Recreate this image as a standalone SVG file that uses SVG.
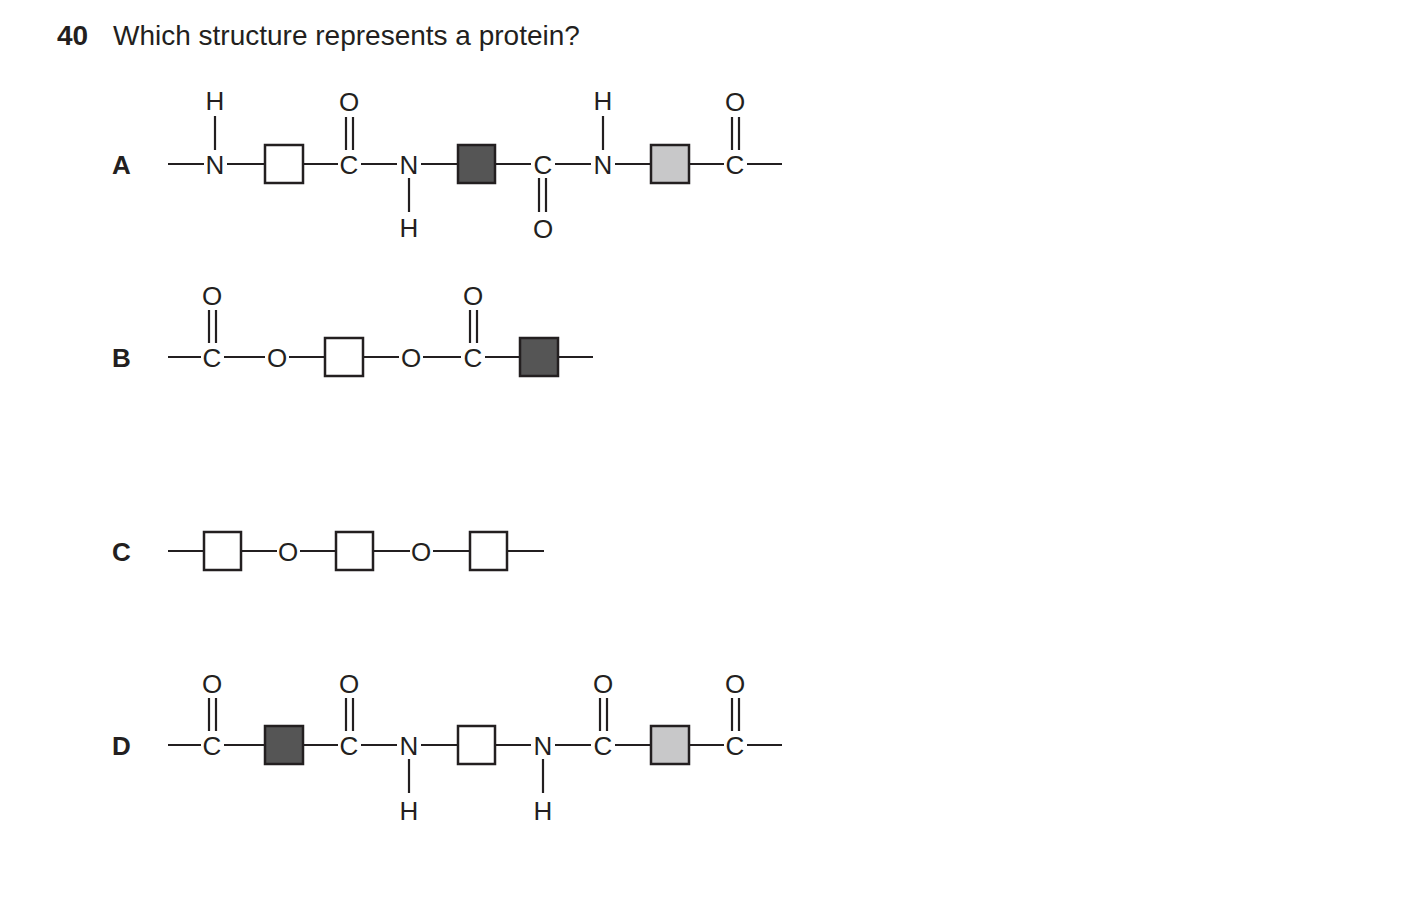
<svg xmlns="http://www.w3.org/2000/svg" width="1403" height="922" viewBox="0 0 1403 922">
<style>
text{font-family:"Liberation Sans",Arial,sans-serif;font-size:26px;fill:#231f20}
.t{font-size:28px}
.a{text-anchor:middle}
.b{font-weight:bold}
line{stroke:#231f20;stroke-width:2.2}
rect{stroke:#231f20;stroke-width:2.5}
.w{fill:#fff}.d{fill:#555}.g{fill:#c8c8c9}
</style>
<rect width="1403" height="922" style="fill:#fff;stroke:none"/>
<text x="57" y="45" class="b t">40</text>
<text x="113" y="45" class="t">Which structure represents a protein?</text>
<g id="labels" class="b">
<text x="112" y="174" class="b">A</text>
<text x="112" y="367" class="b">B</text>
<text x="112" y="561" class="b">C</text>
<text x="112" y="755" class="b">D</text>
</g>
<g id="connectors">
<line x1="168" y1="164" x2="204" y2="164"/><line x1="227" y1="164" x2="264" y2="164"/>
<line x1="303" y1="164" x2="338" y2="164"/><line x1="361" y1="164" x2="397" y2="164"/>
<line x1="421" y1="164" x2="458" y2="164"/><line x1="495" y1="164" x2="531" y2="164"/>
<line x1="555" y1="164" x2="591" y2="164"/><line x1="615" y1="164" x2="651" y2="164"/>
<line x1="689" y1="164" x2="724" y2="164"/><line x1="747" y1="164" x2="782" y2="164"/>
<line x1="215" y1="116" x2="215" y2="150"/>
<line x1="346" y1="117" x2="346" y2="150"/><line x1="353" y1="117" x2="353" y2="150"/>
<line x1="409" y1="178" x2="409" y2="212"/>
<line x1="539" y1="178" x2="539" y2="212"/><line x1="546" y1="178" x2="546" y2="212"/>
<line x1="603" y1="116" x2="603" y2="150"/>
<line x1="732" y1="117" x2="732" y2="150"/><line x1="739" y1="117" x2="739" y2="150"/>
<line x1="168" y1="357" x2="201" y2="357"/><line x1="224" y1="357" x2="265" y2="357"/>
<line x1="289" y1="357" x2="325" y2="357"/><line x1="363" y1="357" x2="399" y2="357"/>
<line x1="423" y1="357" x2="461" y2="357"/><line x1="485" y1="357" x2="520" y2="357"/>
<line x1="558" y1="357" x2="593" y2="357"/>
<line x1="209" y1="310" x2="209" y2="343"/><line x1="216" y1="310" x2="216" y2="343"/>
<line x1="470" y1="310" x2="470" y2="343"/><line x1="477" y1="310" x2="477" y2="343"/>
<line x1="168" y1="551" x2="204" y2="551"/><line x1="241" y1="551" x2="277" y2="551"/>
<line x1="300" y1="551" x2="336" y2="551"/><line x1="373" y1="551" x2="410" y2="551"/>
<line x1="433" y1="551" x2="470" y2="551"/><line x1="507" y1="551" x2="544" y2="551"/>
<line x1="168" y1="745" x2="201" y2="745"/><line x1="224" y1="745" x2="265" y2="745"/>
<line x1="303" y1="745" x2="338" y2="745"/><line x1="361" y1="745" x2="397" y2="745"/>
<line x1="421" y1="745" x2="458" y2="745"/><line x1="495" y1="745" x2="531" y2="745"/>
<line x1="555" y1="745" x2="591" y2="745"/><line x1="615" y1="745" x2="651" y2="745"/>
<line x1="689" y1="745" x2="724" y2="745"/><line x1="747" y1="745" x2="782" y2="745"/>
<line x1="209" y1="698" x2="209" y2="731"/><line x1="216" y1="698" x2="216" y2="731"/>
<line x1="346" y1="698" x2="346" y2="731"/><line x1="353" y1="698" x2="353" y2="731"/>
<line x1="409" y1="759" x2="409" y2="793"/>
<line x1="543" y1="759" x2="543" y2="793"/>
<line x1="600" y1="698" x2="600" y2="731"/><line x1="607" y1="698" x2="607" y2="731"/>
<line x1="732" y1="698" x2="732" y2="731"/><line x1="739" y1="698" x2="739" y2="731"/>
</g>
<g id="atoms" class="a">
<text x="215" y="110" class="a">H</text><text x="215" y="174" class="a">N</text>
<text x="349" y="111" class="a">O</text><text x="349" y="174" class="a">C</text>
<text x="409" y="174" class="a">N</text><text x="409" y="237" class="a">H</text>
<text x="543" y="174" class="a">C</text><text x="543" y="238" class="a">O</text>
<text x="603" y="110" class="a">H</text><text x="603" y="174" class="a">N</text>
<text x="735" y="111" class="a">O</text><text x="735" y="174" class="a">C</text>
<text x="212" y="305" class="a">O</text><text x="212" y="367" class="a">C</text>
<text x="277" y="367" class="a">O</text><text x="411" y="367" class="a">O</text>
<text x="473" y="305" class="a">O</text><text x="473" y="367" class="a">C</text>
<text x="288" y="561" class="a">O</text><text x="421" y="561" class="a">O</text>
<text x="212" y="693" class="a">O</text><text x="212" y="755" class="a">C</text>
<text x="349" y="693" class="a">O</text><text x="349" y="755" class="a">C</text>
<text x="409" y="755" class="a">N</text><text x="409" y="820" class="a">H</text>
<text x="543" y="755" class="a">N</text><text x="543" y="820" class="a">H</text>
<text x="603" y="693" class="a">O</text><text x="603" y="755" class="a">C</text>
<text x="735" y="693" class="a">O</text><text x="735" y="755" class="a">C</text>
</g>
<g id="squares">
<rect id="A1" x="265" y="145" width="38" height="38" class="w"/>
<rect id="A2" x="458" y="145" width="37" height="38" class="d"/>
<rect id="A3" x="651" y="145" width="38" height="38" class="g"/>
<rect id="B1" x="325" y="338" width="38" height="38" class="w"/>
<rect id="B2" x="520" y="338" width="38" height="38" class="d"/>
<rect id="C1" x="204" y="532" width="37" height="38" class="w"/>
<rect id="C2" x="336" y="532" width="37" height="38" class="w"/>
<rect id="C3" x="470" y="532" width="37" height="38" class="w"/>
<rect id="D1" x="265" y="726" width="38" height="38" class="d"/>
<rect id="D2" x="458" y="726" width="37" height="38" class="w"/>
<rect id="D3" x="651" y="726" width="38" height="38" class="g"/>
</g>
</svg>
